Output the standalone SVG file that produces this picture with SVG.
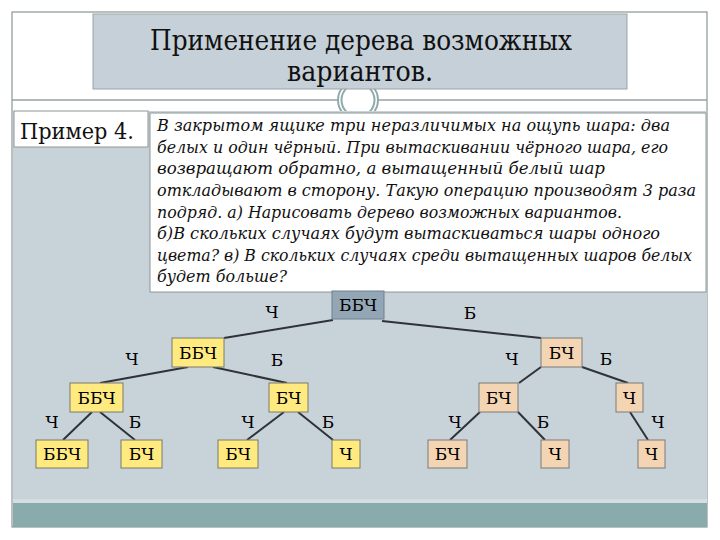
<svg xmlns="http://www.w3.org/2000/svg" width="720" height="540" viewBox="0 0 720 540">
<style>
.nt{font-family:"DejaVu Serif",serif;font-size:17px;fill:#000;text-anchor:middle}
.lb{font-family:"DejaVu Serif",serif;font-size:17px;fill:#000;text-anchor:middle}
.y{fill:#ffea80;stroke:#7a7a6a;stroke-width:1}
.p{fill:#f4d5b3;stroke:#7a7a7a;stroke-width:1}
.para{font-family:"DejaVu Serif",serif;font-style:italic;font-size:16.5px;fill:#111}
.ttl{font-family:"DejaVu Serif",serif;font-size:28px;fill:#111;text-anchor:middle}
.ex{font-family:"DejaVu Serif",serif;font-size:23px;fill:#111}
.e{stroke:#2f3338;stroke-width:2;fill:none}
</style>
<rect x="0" y="0" width="720" height="540" fill="#ffffff"/>
<rect x="12" y="12" width="695" height="515" fill="#ffffff" stroke="#8c9696" stroke-width="1.2"/>
<line x1="12" y1="100" x2="707" y2="100" stroke="#9aa2a2" stroke-width="1.5"/>
<g id="ring">
<circle cx="358" cy="100" r="20" fill="#ffffff" stroke="#8faaa8" stroke-width="2"/>
<circle cx="358" cy="100" r="16.5" fill="none" stroke="#8faaa8" stroke-width="2"/>
</g>
<g id="title">
<rect x="93" y="14" width="534" height="75" fill="#c6d0d8" stroke="#9aa5a8" stroke-width="1"/>
<text class="ttl" x="361" y="50" textLength="422" lengthAdjust="spacingAndGlyphs">Применение дерева возможных</text>
<text class="ttl" x="360" y="81" textLength="146" lengthAdjust="spacingAndGlyphs">вариантов.</text>
</g>
<rect x="13" y="111" width="694" height="392" fill="#c8d2d9"/>
<rect x="13" y="499" width="694" height="4" fill="#d4dee2"/>
<rect x="13" y="503" width="694" height="24" fill="#8aabab"/>
<g id="example">
<rect x="14" y="111" width="134" height="36" fill="#ffffff" stroke="#8c9696" stroke-width="1"/>
<text class="ex" x="20" y="139" textLength="114" lengthAdjust="spacingAndGlyphs">Пример 4.</text>
</g>
<g id="problem">
<rect x="150" y="113" width="556" height="179" fill="#ffffff" stroke="#8c9696" stroke-width="1"/>
<text class="para" x="157" y="131" textLength="513" lengthAdjust="spacingAndGlyphs">В закрытом  ящике три неразличимых на ощупь шара: два</text>
<text class="para" x="157" y="152.5" textLength="511" lengthAdjust="spacingAndGlyphs">белых и один чёрный. При вытаскивании чёрного шара, его</text>
<text class="para" x="157" y="174" textLength="448" lengthAdjust="spacingAndGlyphs">возвращают обратно, а вытащенный белый шар</text>
<text class="para" x="157" y="196" textLength="539" lengthAdjust="spacingAndGlyphs">откладывают в сторону. Такую операцию производят 3 раза</text>
<text class="para" x="157" y="217.5" textLength="465" lengthAdjust="spacingAndGlyphs">подряд. а) Нарисовать дерево возможных вариантов.</text>
<text class="para" x="157" y="239" textLength="503" lengthAdjust="spacingAndGlyphs">б)В скольких случаях будут вытаскиваться шары одного</text>
<text class="para" x="157" y="260.5" textLength="535" lengthAdjust="spacingAndGlyphs">цвета? в) В скольких случаях среди вытащенных шаров белых</text>
<text class="para" x="157" y="282" textLength="130" lengthAdjust="spacingAndGlyphs">будет больше?</text>
</g>
<g id="connectors">
<line class="e" x1="333" y1="320" x2="224" y2="338"/>
<line class="e" x1="382" y1="321" x2="541" y2="338"/>
<line class="e" x1="188" y1="367" x2="100" y2="383"/>
<line class="e" x1="213" y1="367" x2="287" y2="383"/>
<line class="e" x1="92" y1="412" x2="63" y2="440"/>
<line class="e" x1="100" y1="412" x2="135" y2="440"/>
<line class="e" x1="284" y1="412" x2="247" y2="440"/>
<line class="e" x1="298" y1="412" x2="333" y2="440"/>
<line class="e" x1="541" y1="367" x2="519" y2="383"/>
<line class="e" x1="582" y1="367" x2="628" y2="383"/>
<line class="e" x1="480" y1="412" x2="450" y2="440"/>
<line class="e" x1="518" y1="412" x2="545" y2="440"/>
<line class="e" x1="630" y1="412" x2="648" y2="440"/>
</g>
<g id="edge-labels">
<text class="lb" x="272" y="318">Ч</text>
<text class="lb" x="470" y="319">Б</text>
<text class="lb" x="132" y="365">Ч</text>
<text class="lb" x="277" y="366">Б</text>
<text class="lb" x="512" y="365">Ч</text>
<text class="lb" x="606" y="365">Б</text>
<text class="lb" x="52" y="428">Ч</text>
<text class="lb" x="135" y="428">Б</text>
<text class="lb" x="248" y="428">Ч</text>
<text class="lb" x="328" y="428">Б</text>
<text class="lb" x="455" y="428">Ч</text>
<text class="lb" x="543" y="428">Б</text>
<text class="lb" x="658" y="428">Ч</text>
</g>
<g id="root"><rect x="332" y="291" width="52" height="28" fill="#93a6b6" stroke="#6f808e" stroke-width="1"/><text class="nt" x="358" y="311">ББЧ</text></g>
<g id="n-bbch-1"><rect class="y" x="172" y="338" width="52" height="29"/><text class="nt" x="198" y="359">ББЧ</text></g>
<g id="n-bch-1"><rect class="p" x="541" y="338" width="41" height="29"/><text class="nt" x="561.5" y="359">БЧ</text></g>
<g id="n-bbch-2"><rect class="y" x="70" y="383" width="53" height="29"/><text class="nt" x="96.5" y="404">ББЧ</text></g>
<g id="n-bch-2a"><rect class="y" x="269" y="383" width="39" height="29"/><text class="nt" x="288.5" y="404">БЧ</text></g>
<g id="n-bch-2b"><rect class="p" x="479" y="383" width="39" height="29"/><text class="nt" x="498.5" y="404">БЧ</text></g>
<g id="n-ch-2"><rect class="p" x="616" y="383" width="27" height="29"/><text class="nt" x="629.5" y="404">Ч</text></g>
<g id="leaf-1"><rect class="y" x="36" y="440" width="52" height="28"/><text class="nt" x="62" y="460">ББЧ</text></g>
<g id="leaf-2"><rect class="y" x="121" y="440" width="41" height="28"/><text class="nt" x="141.5" y="460">БЧ</text></g>
<g id="leaf-3"><rect class="y" x="218" y="440" width="40" height="28"/><text class="nt" x="238" y="460">БЧ</text></g>
<g id="leaf-4"><rect class="y" x="332" y="440" width="28" height="28"/><text class="nt" x="346" y="460">Ч</text></g>
<g id="leaf-5"><rect class="p" x="428" y="440" width="39" height="28"/><text class="nt" x="447.5" y="460">БЧ</text></g>
<g id="leaf-6"><rect class="p" x="541" y="440" width="28" height="28"/><text class="nt" x="555" y="460">Ч</text></g>
<g id="leaf-7"><rect class="p" x="638" y="440" width="27" height="28"/><text class="nt" x="651.5" y="460">Ч</text></g>
</svg>
